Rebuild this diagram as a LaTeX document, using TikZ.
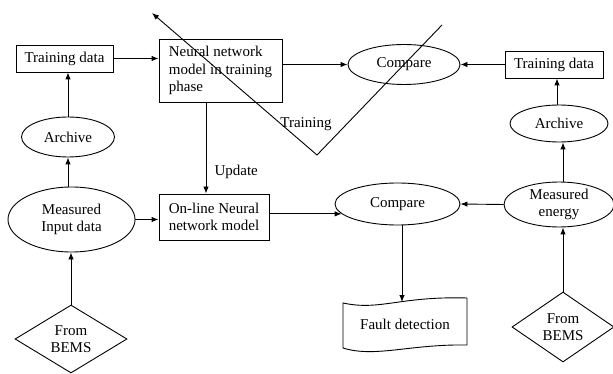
\documentclass[tikz,border=0pt]{standalone}
\usepackage{fontspec}
\setmainfont{Liberation Serif}
\usetikzlibrary{shapes.geometric,arrows.meta,calc}
\begin{document}
\begin{tikzpicture}[x=1pt,y=-1pt,
  every node/.style={font=\fontsize{15}{17.5}\selectfont},
  box/.style={draw,line width=0.9pt,inner sep=0pt,align=center},
  ell/.style={draw,ellipse,line width=0.9pt,inner sep=0pt,align=center},
  dia/.style={draw,diamond,aspect=1.6,line width=0.9pt,inner sep=0pt,align=center},
  arr/.style={line width=0.9pt,-{Latex[length=7pt,width=5.5pt]}},
  ln/.style={line width=0.9pt}]
\useasboundingbox (0,0) rectangle (613,374);
\node[box,minimum width=97,minimum height=27] (trainL) at (64.5,58.5) {Training data};
\node[box,minimum width=123,minimum height=63,align=left] (nn) at (220.5,70.5) {Neural network\\model in training\\phase};
\node[ell,minimum width=112,minimum height=40] (cmpT) at (404,64.5) {Compare};
\node[box,minimum width=98,minimum height=27] (trainR) at (554,64.5) {Training data};
\node[ell,minimum width=93,minimum height=40] (arcL) at (68,137) {Archive};
\node[ell,minimum width=98,minimum height=37] (arcR) at (559,123.5) {Archive};
\node[ell,minimum width=127,minimum height=65] (measL) at (71.5,219.5) {Measured\\Input data};
\node[box,minimum width=110,minimum height=46] (online) at (214,217) {On-line Neural\\network model};
\node[ell,minimum width=125,minimum height=42] (cmpB) at (397.5,204) {Compare};
\node[ell,minimum width=110,minimum height=45] (measR) at (559,204.5) {Measured\\energy};
\node[dia,minimum width=112,minimum height=68] (diaL) at (71,339) {From\\BEMS};
\node[dia,minimum width=102,minimum height=70] (diaR) at (563,327) {From\\BEMS};
\node[minimum width=124,minimum height=45,inner sep=0pt] (fault) at (405,324) {Fault detection};
\draw[ln,shift={(fault.center)}] (-62,-21) .. controls (-25,-13) and (-5,-28) .. (62,-26) -- (62,21) .. controls (5,20) and (-30,34) .. (-62,24) -- cycle;
\coordinate (ftop) at ([shift={(-3,-22)}]fault.center);
% connectors
\draw[arr] (trainL.east) -- (trainL.east -| nn.west);
\draw[arr] (nn.east |- cmpT.west) -- (cmpT.west);
\draw[arr] (trainR.west) -- (cmpT.east);
\draw[arr] (arcL.north) -- (arcL.north |- trainL.south);
\draw[arr] (arcL.south |- measL.north) -- (arcL.south);
\draw[arr] (diaL.north) -- (diaL.north |- measL.south);
\draw[arr] (measL.east) -- (measL.east -| online.west);
\draw[arr] ([xshift=-8pt]online.north |- nn.south) -- ([xshift=-8pt]online.north);
\node[anchor=west] (upd) at (211,172) {Update};
\draw[arr] (online.east |- cmpB.190) -- (cmpB.190);
\draw[arr] (measR.west) -- (cmpB.east);
\draw[arr] (cmpB.south -| ftop) -- (ftop);
\draw[arr] ([xshift=-2pt]arcR.north) -- ([xshift=-2pt]arcR.north |- trainR.south);
\draw[arr] ([xshift=4pt]measR.north) -- ([xshift=4pt]measR.north |- arcR.south);
\draw[arr] (diaR.north) -- (diaR.north |- measR.south);
% training loop
\coordinate (t0) at (442,25);
\coordinate (t1) at (317,155);
\coordinate (t2) at (152,13);
\draw[arr] (t0) -- (t1) -- (t2);
\node (trn) at (306,124) {Training};
\end{tikzpicture}
\end{document}
